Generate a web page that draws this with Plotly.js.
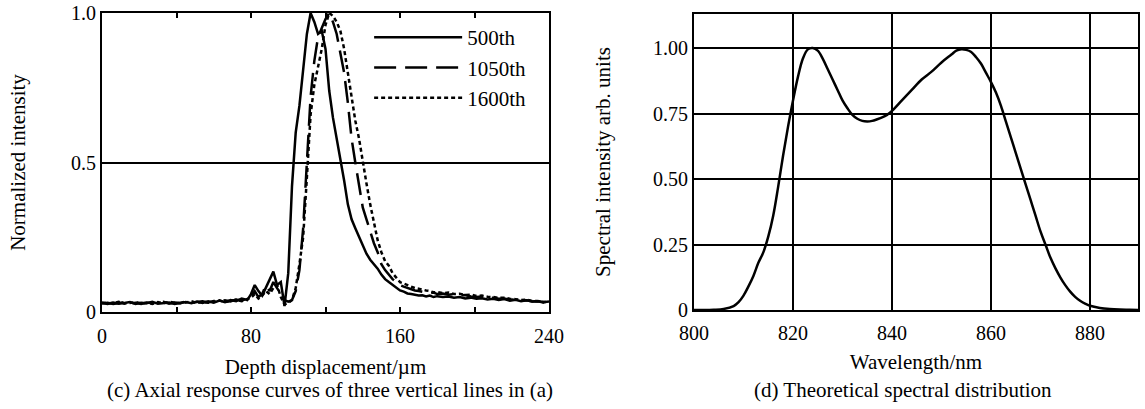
<!DOCTYPE html>
<html>
<head>
<meta charset="utf-8">
<script src="https://cdn.plot.ly/plotly-3.0.1.min.js"></script>
<style>html,body{margin:0;padding:0;background:#fff;}#chart{width:1145px;height:409px;}</style>
</head>
<body>
<div id="chart"></div>
<script>
// ---- (c) Axial response curves ----
const depth = [0,3,6,9,12,15,18,21,24,27,30,33,36,39,42,45,48,51,54,57,60,63,66,69,72,75,78,
  80,82,84,86,88,90,92,94,96,98,100,102,104,106,108,110,112,114,116,118,120,122,124,126,128,130,
  132,134,136,138,140,142,144,146,148,150,152,154,156,158,160,162,164,166,168,170,172,174,176,178,180,
  183,186,189,192,195,198,201,204,207,210,213,216,219,222,225,228,231,234,237,240];

const line500 = [0.030,0.027,0.032,0.028,0.030,0.033,0.027,0.031,0.029,0.034,0.028,0.030,0.032,0.027,0.031,0.033,0.029,0.035,0.030,0.036,0.031,0.038,0.033,0.040,0.036,0.045,0.040,
  0.060,0.090,0.070,0.055,0.080,0.110,0.135,0.090,0.100,0.020,0.130,0.420,0.600,0.690,0.820,0.930,1.000,0.970,0.930,0.940,0.880,0.740,0.650,0.580,0.520,0.440,
  0.360,0.310,0.280,0.250,0.220,0.195,0.175,0.160,0.145,0.125,0.110,0.100,0.090,0.080,0.072,0.068,0.062,0.060,0.058,0.055,0.056,0.052,0.055,0.050,0.053,
  0.050,0.052,0.048,0.050,0.045,0.048,0.044,0.046,0.042,0.044,0.040,0.043,0.038,0.041,0.036,0.039,0.035,0.037,0.033,0.035];

const line1050 = [0.028,0.031,0.027,0.030,0.033,0.028,0.031,0.027,0.032,0.029,0.031,0.034,0.028,0.032,0.030,0.035,0.031,0.033,0.036,0.032,0.037,0.034,0.039,0.035,0.042,0.038,0.046,
  0.050,0.070,0.050,0.060,0.090,0.070,0.100,0.080,0.060,0.040,0.035,0.040,0.070,0.140,0.280,0.500,0.720,0.840,0.920,0.950,0.980,1.000,0.970,0.930,0.870,0.800,
  0.700,0.580,0.500,0.420,0.350,0.310,0.270,0.230,0.200,0.160,0.140,0.125,0.110,0.100,0.090,0.085,0.080,0.076,0.072,0.070,0.068,0.066,0.063,0.065,0.060,
  0.062,0.058,0.060,0.055,0.057,0.052,0.050,0.052,0.047,0.048,0.044,0.045,0.041,0.042,0.038,0.039,0.035,0.036,0.032,0.033];

const line1600 = [0.032,0.029,0.030,0.034,0.028,0.031,0.033,0.029,0.030,0.027,0.033,0.030,0.034,0.031,0.029,0.032,0.036,0.030,0.034,0.031,0.035,0.039,0.033,0.037,0.041,0.036,0.043,
  0.048,0.060,0.045,0.055,0.070,0.060,0.080,0.090,0.050,0.025,0.030,0.040,0.080,0.160,0.250,0.450,0.660,0.760,0.820,0.880,0.960,1.000,0.990,0.970,0.940,0.880,
  0.800,0.720,0.640,0.580,0.500,0.430,0.360,0.300,0.240,0.200,0.170,0.155,0.130,0.115,0.100,0.095,0.090,0.085,0.080,0.078,0.074,0.072,0.070,0.066,0.067,
  0.063,0.065,0.060,0.061,0.057,0.058,0.054,0.055,0.051,0.050,0.047,0.048,0.044,0.043,0.040,0.041,0.037,0.036,0.033,0.032];

const seriesNames = ['500th','1050th','1600th'];
const depthTicks = [0,40,80,120,160,200,240];
const depthTickText = ['0','','80','','160','','240'];
const normTicks = [0,0.5,1];
const normTickText = ['0','0.5','1.0'];

// ---- (d) Theoretical spectral distribution ----
const wavelength = [800,802,804,806,808,809,810,811,812,813,814,815,816,817,818,819,820,821,822,823,824,825,826,827,828,829,830,
  831,832,833,834,835,836,837,838,839,840,842,844,846,848,850,852,853,854,855,856,857,858,859,860,861,862,863,864,865,866,867,868,
  869,870,871,872,873,874,875,876,877,878,879,880,882,884,886,888,890];
const spectrum = [0,0,0.001,0.004,0.015,0.030,0.055,0.090,0.130,0.180,0.220,0.280,0.360,0.470,0.590,0.700,0.800,0.890,0.960,0.995,1.000,0.990,0.960,0.920,0.880,0.840,0.800,
  0.770,0.745,0.730,0.722,0.720,0.722,0.728,0.735,0.745,0.760,0.800,0.840,0.880,0.910,0.945,0.975,0.990,0.995,0.993,0.985,0.965,0.940,0.905,0.870,0.830,0.780,0.720,0.660,0.600,0.540,0.480,0.420,
  0.360,0.300,0.250,0.200,0.160,0.125,0.095,0.070,0.050,0.035,0.024,0.016,0.008,0.004,0.002,0.001,0];
const specTicks = [0,0.25,0.5,0.75,1];
const specTickText = ['0','0.25','0.50','0.75','1.00'];

const FONT = 'Liberation Serif, Times New Roman, serif';
const W = 1145, H = 409;

const traces = [
  {x: depth, y: line500, name: seriesNames[0], type: 'scatter', mode: 'lines', line: {color: '#000', width: 2.5}, xaxis: 'x', yaxis: 'y'},
  {x: depth, y: line1050, name: seriesNames[1], type: 'scatter', mode: 'lines', line: {color: '#000', width: 2.5, dash: '22px,9px'}, xaxis: 'x', yaxis: 'y'},
  {x: depth, y: line1600, name: seriesNames[2], type: 'scatter', mode: 'lines', line: {color: '#000', width: 2.5, dash: '4px,3px'}, xaxis: 'x', yaxis: 'y'},
  {x: wavelength, y: spectrum, name: 'Spectrum', type: 'scatter', mode: 'lines', line: {color: '#000', width: 2.5, shape: 'spline'}, xaxis: 'x2', yaxis: 'y2', showlegend: false}
];

const axisCommon = {
  showline: true, linecolor: '#000', linewidth: 2, zeroline: false,
  tickfont: {family: FONT, size: 20, color: '#000'}
};

const layout = {
  width: W, height: H,
  margin: {l: 0, r: 0, t: 0, b: 0},
  paper_bgcolor: '#fff', plot_bgcolor: '#fff',
  font: {family: FONT, color: '#000'},
  showlegend: true,
  legend: {
    x: 376/W - 0.006, y: 1 - 17/H, xanchor: 'left', yanchor: 'top',
    bgcolor: 'rgba(0,0,0,0)', borderwidth: 0,
    font: {family: FONT, size: 21, color: '#000'},
    itemwidth: 88, tracegroupgap: 0
  },
  xaxis: Object.assign({}, axisCommon, {
    domain: [102/W, 549/W], range: [0, 240], anchor: 'y',
    tickmode: 'array', tickvals: depthTicks, ticktext: depthTickText,
    ticks: 'inside', ticklen: 5, tickwidth: 2, tickcolor: '#000', mirror: 'ticks',
    ticklabelstandoff: 5,
    showgrid: false,
    title: {text: 'Depth displacement/µm', font: {family: FONT, size: 21, color: '#000'}, standoff: 13}
  }),
  yaxis: Object.assign({}, axisCommon, {
    domain: [1 - 312/H, 1 - 13/H], range: [0, 1], anchor: 'x',
    tickmode: 'array', tickvals: normTicks, ticktext: normTickText,
    ticks: '', mirror: true, showgrid: true, gridcolor: '#000', gridwidth: 2,
    title: {text: 'Normalized intensity', font: {family: FONT, size: 21, color: '#000'}, standoff: 40}
  }),
  xaxis2: Object.assign({}, axisCommon, {
    domain: [694/W, 1138/W], range: [800, 889.7], anchor: 'y2',
    tickmode: 'linear', tick0: 800, dtick: 20,
    ticklabelstandoff: 4,
    ticks: '', mirror: true, showgrid: true, gridcolor: '#000', gridwidth: 2,
    title: {text: 'Wavelength/nm', font: {family: FONT, size: 21, color: '#000'}, standoff: 11}
  }),
  yaxis2: Object.assign({}, axisCommon, {
    domain: [1 - 310/H, 1 - 14/H], range: [0, 1.13], anchor: 'x2',
    tickmode: 'array', tickvals: specTicks, ticktext: specTickText,
    ticks: '', mirror: true, showgrid: true, gridcolor: '#000', gridwidth: 2,
    title: {text: 'Spectral intensity arb. units', font: {family: FONT, size: 21, color: '#000'}, standoff: 37}
  }),
  annotations: [
    {text: '(c) Axial response curves of three vertical lines in (a)', xref: 'paper', yref: 'paper',
     x: 330/W, y: 1 - 390/H, xanchor: 'center', yanchor: 'middle', showarrow: false,
     font: {family: FONT, size: 21, color: '#000'}},
    {text: '(d) Theoretical spectral distribution', xref: 'paper', yref: 'paper',
     x: 903/W, y: 1 - 390/H, xanchor: 'center', yanchor: 'middle', showarrow: false,
     font: {family: FONT, size: 21, color: '#000'}}
  ]
};

Plotly.newPlot('chart', traces, layout, {displayModeBar: false, staticPlot: true});
</script>
</body>
</html>
